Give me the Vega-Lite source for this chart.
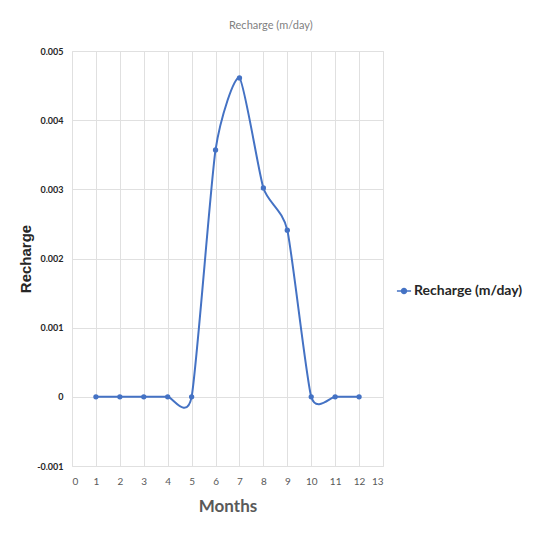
{
  "$schema": "https://vega.github.io/schema/vega-lite/v6.json",
  "autosize": {"type": "none"},
  "padding": {"left": 72, "top": 51, "right": 153, "bottom": 77},
  "width": 311,
  "height": 415,
  "background": "white",
  "title": {
    "text": "Recharge (m/day)",
    "anchor": "middle",
    "frame": "bounds",
    "font": "Lato",
    "fontSize": 11,
    "fontWeight": "normal",
    "color": "#7f7f7f",
    "offset": 16
  },
  "data": {
    "values": [
      {"month": 1, "recharge": 0, "series": "Recharge (m/day)"},
      {"month": 2, "recharge": 0, "series": "Recharge (m/day)"},
      {"month": 3, "recharge": 0, "series": "Recharge (m/day)"},
      {"month": 4, "recharge": 0, "series": "Recharge (m/day)"},
      {"month": 5, "recharge": 0, "series": "Recharge (m/day)"},
      {"month": 6, "recharge": 0.00357, "series": "Recharge (m/day)"},
      {"month": 7, "recharge": 0.00461, "series": "Recharge (m/day)"},
      {"month": 8, "recharge": 0.00302, "series": "Recharge (m/day)"},
      {"month": 9, "recharge": 0.00241, "series": "Recharge (m/day)"},
      {"month": 10, "recharge": 0, "series": "Recharge (m/day)"},
      {"month": 11, "recharge": 0, "series": "Recharge (m/day)"},
      {"month": 12, "recharge": 0, "series": "Recharge (m/day)"}
    ]
  },
  "encoding": {
    "x": {
      "field": "month",
      "type": "quantitative",
      "scale": {"domain": [0, 13], "nice": false, "zero": false},
      "axis": {
        "title": "Months",
        "values": [0, 1, 2, 3, 4, 5, 6, 7, 8, 9, 10, 11, 12, 13],
        "grid": true,
        "gridColor": "#e0e0e0",
        "domain": false,
        "ticks": false,
        "labelPadding": 10,
        "labelFont": "Lato",
        "labelFontSize": 10,
        "labelColor": "#595959",
        "titleFont": "Lato",
        "titleFontSize": 17,
        "titleFontWeight": "bold",
        "titleColor": "#595959",
        "titlePadding": 12
      }
    },
    "y": {
      "field": "recharge",
      "type": "quantitative",
      "scale": {"domain": [-0.001, 0.005], "nice": false, "zero": false},
      "axis": {
        "title": "Recharge",
        "values": [-0.001, 0, 0.001, 0.002, 0.003, 0.004, 0.005],
        "labelExpr": "replace(format(datum.value, '.3~f'), '−', '-')",
        "grid": true,
        "gridColor": "#e0e0e0",
        "domain": false,
        "ticks": false,
        "labelPadding": 9,
        "labelFont": "Lato",
        "labelFontSize": 9,
        "labelFontWeight": "bold",
        "labelColor": "#262626",
        "titleFont": "Liberation Sans",
        "titleFontSize": 15,
        "titleFontWeight": "bold",
        "titleColor": "#262626",
        "titlePadding": 3
      }
    },
    "color": {
      "field": "series",
      "type": "nominal",
      "scale": {"range": ["#4472C4"]},
      "legend": {
        "title": null,
        "orient": "none",
        "legendX": 324,
        "legendY": 232,
        "symbolType": "M-1,0H1M-0.35,0A0.35,0.35 0 1,1 0.35,0A0.35,0.35 0 1,1 -0.35,0Z",
        "symbolSize": 200,
        "symbolStrokeWidth": 1.5,
        "labelFont": "Lato",
        "labelFontSize": 14,
        "labelFontWeight": "bold",
        "labelColor": "#262626",
        "labelOffset": 2
      }
    }
  },
  "layer": [
    {
      "mark": {"type": "line", "interpolate": "cardinal", "tension": 0.4, "strokeWidth": 2}
    },
    {
      "mark": {"type": "point", "filled": true, "size": 28, "opacity": 1}
    }
  ]
}
